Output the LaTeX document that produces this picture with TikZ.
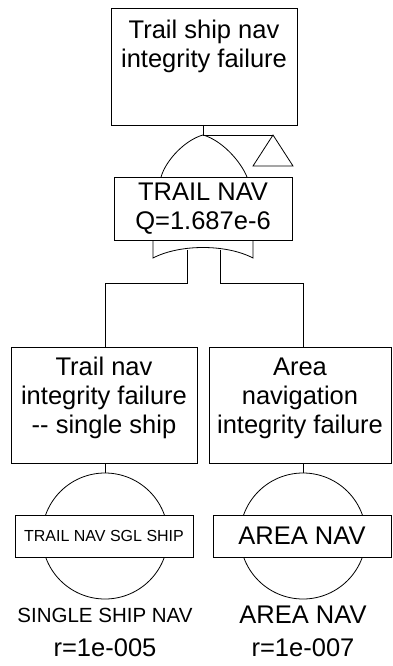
\documentclass[tikz,border=0pt]{standalone}
\usepackage{fontspec}
\setmainfont{Liberation Sans}
\begin{document}
\begin{tikzpicture}[x=1pt,y=-1pt,line width=0.8pt,
  evbox/.style={draw,fill=white,inner sep=0pt,outer sep=0pt},
  big/.style={font=\fontsize{25.5}{29}\selectfont,align=center,inner sep=0pt},
  mid/.style={font=\fontsize{20.5}{24}\selectfont,align=center,inner sep=0pt},
  small/.style={font=\fontsize{16}{19}\selectfont,align=center,inner sep=0pt}]
\useasboundingbox (0,0) rectangle (392,666);
% top event
\node[evbox,minimum width=186pt,minimum height=117pt] (top) at (204,66.5) {};
\node[big] (toptxt) at (204,46) {Trail ship nav\\integrity failure};
% gate
\coordinate (apex) at (203,135);
\coordinate (tri) at (273,135);
\draw (top.south -| apex) -- (apex);
\draw (apex) -- (tri);
\draw (tri) -- (293,166) -- (253,166) -- cycle;
\draw (161,177) .. controls (166,160) and (185,140) .. (apex)
      .. controls (221,140) and (240,160) .. (247,177);
\draw (153,236) -- (153,258) .. controls (180,244) and (226,244) .. (253,258) -- (253,236);
\node[evbox,minimum width=178pt,minimum height=63pt] (gate) at (203,208.5) {};
\node[big] (gatetxt) at (203,208.5) {TRAIL NAV\\Q=1.687e-6};
% children
\node[evbox,minimum width=186pt,minimum height=116pt] (left) at (104,405) {};
\node[big] (lefttxt) at (104,398) {Trail nav\\integrity failure\\-{}- single ship};
\node[evbox,minimum width=182pt,minimum height=116pt] (right) at (300,405) {};
\node[big] (righttxt) at (300,398) {Area\\navigation\\integrity failure};
\coordinate (inl) at (187,250);
\coordinate (inr) at (220,250);
\draw (inl) |- (105,283) -- (left.north -| 105,0);
\draw (inr) |- (303,283) -- (right.north -| 303,0);
% basic events
\node[draw,circle,minimum size=126pt,inner sep=0pt] (cl) at (105,536) {};
\node[draw,circle,minimum size=126pt,inner sep=0pt] (cr) at (303,536) {};
\draw (left.south -| cl.north) -- (cl.north);
\draw (right.south -| cr.north) -- (cr.north);
\node[evbox,minimum width=178pt,minimum height=42pt] (bl) at (104,536) {};
\node[small] at (104,536) {TRAIL NAV SGL SHIP};
\node[evbox,minimum width=178pt,minimum height=42pt] (br) at (302,536) {};
\node[big] at (302,536) {AREA NAV};
\node[mid] (lname) at (105,615) {SINGLE SHIP NAV};
\node[big] (lr) at (105,648) {r=1e-005};
\node[big] (rname) at (303,615) {AREA NAV};
\node[big] (rr) at (303,648) {r=1e-007};
\end{tikzpicture}
\end{document}
